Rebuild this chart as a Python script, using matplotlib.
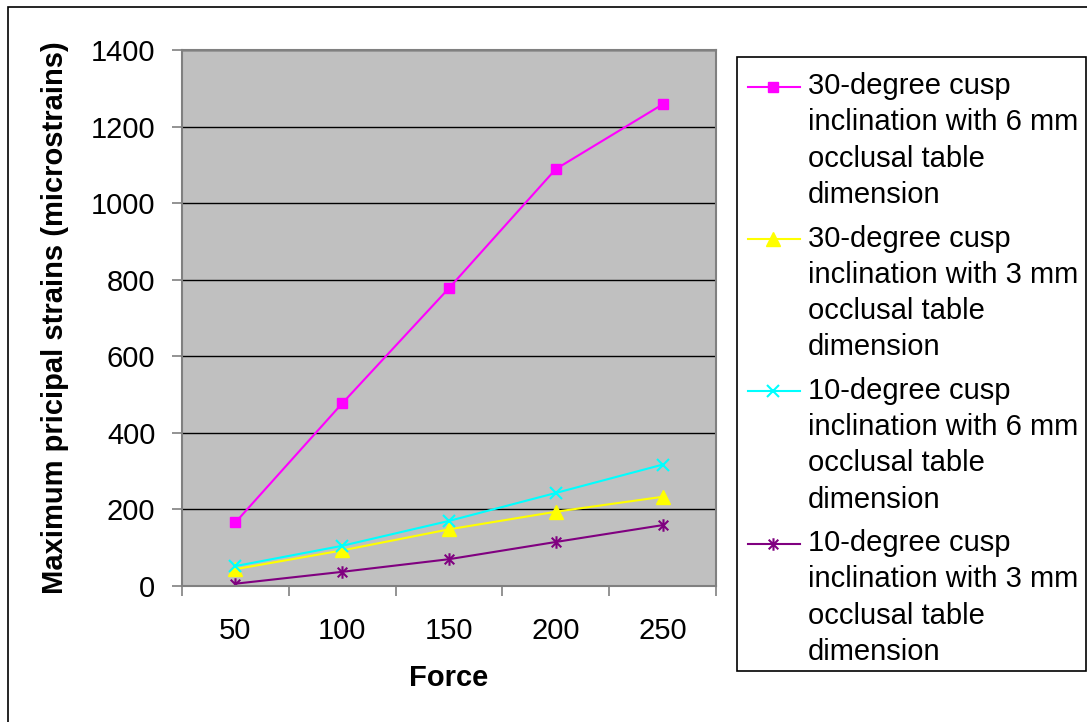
import matplotlib
matplotlib.use('Agg')
from matplotlib import pyplot as plt
from matplotlib.path import Path
from matplotlib.patches import Rectangle
from matplotlib.lines import Line2D

# 数据
force = ['50', '100', '150', '200', '250']
s30_6 = [166, 477, 778, 1089, 1258]
s30_3 = [44, 93, 148, 194, 233]
s10_6 = [52, 105, 170, 243, 317]
s10_3 = [6, 37, 70, 115, 159]
labels = [
    '30-degree cusp\ninclination with 6 mm\nocclusal table\ndimension',
    '30-degree cusp\ninclination with 3 mm\nocclusal table\ndimension',
    '10-degree cusp\ninclination with 6 mm\nocclusal table\ndimension',
    '10-degree cusp\ninclination with 3 mm\nocclusal table\ndimension',
]

plt.rcParams['font.family'] = ['Liberation Sans', 'DejaVu Sans']
FS = 21

# Excel 风格的星形标记（x 加竖线）
star = Path([(-1, -1), (1, 1), (-1, 1), (1, -1), (0, -1.3), (0, 1.3)],
            [Path.MOVETO, Path.LINETO, Path.MOVETO, Path.LINETO, Path.MOVETO, Path.LINETO])

W, H = 1087, 722
fig = plt.figure(figsize=(W / 100, H / 100), dpi=100)
ax = fig.add_axes([182 / W, 1 - 586 / H, 534 / W, 536 / H])
ax.set_facecolor('#C0C0C0')

styles = [
    dict(color='#FF00FF', marker='s', markersize=7.5),
    dict(color='#FFFF00', marker='^', markersize=9.5),
    dict(color='#00FFFF', marker='x', markersize=9, mew=1.5),
    dict(color='#800080', marker=star, markersize=9, mew=1.5),
]
x = list(range(1, len(force) + 1))
for ys, st in zip([s30_6, s30_3, s10_6, s10_3], styles):
    ax.plot(x, ys, lw=1.5, **st)

ax.set_ylim(0, 1400)
ax.set_yticks(range(0, 1401, 200))
ax.yaxis.grid(True, color='black', lw=1)
ax.set_axisbelow(True)
ax.set_xlim(0.5, 5.5)
ax.set_xticks([i + 0.5 for i in range(0, 6)])
ax.set_xticklabels([])
ax.set_xticks(x, minor=True)
ax.set_xticklabels(force, minor=True)
ax.tick_params(axis='x', which='minor', length=0, pad=22, labelsize=FS)
ax.tick_params(axis='x', which='major', length=7.2, color='#808080', width=1.2)
ax.tick_params(axis='y', length=7.2, color='#808080', width=1.2, labelsize=FS, pad=12)
for sp in ax.spines.values():
    sp.set_color('#808080')
    sp.set_linewidth(1.5)

ax.set_xlabel('Force', fontsize=FS, fontweight='bold', labelpad=14)
ax.set_ylabel('Maximum pricipal strains (microstrains)', fontsize=FS, fontweight='bold')
ax.yaxis.set_label_coords((69 - 182) / 534, 0.5)

# 图例（手动绘制，标记对齐第一行文字）
fig.patches.append(Rectangle((737 / W, 1 - 671 / H), 349 / W, 614 / H, transform=fig.transFigure,
                             facecolor='white', edgecolor='black', lw=1.2, zorder=0))
for i, (lab, st) in enumerate(zip(labels, styles)):
    base = 94.3 + i * 152.3
    ly = 1 - (base - 7.6) / H
    fig.add_artist(Line2D([748 / W, 800 / W], [ly, ly], color=st['color'], lw=1.5,
                          transform=fig.transFigure))
    fig.add_artist(Line2D([773 / W], [ly], transform=fig.transFigure, linestyle='none', **st))
    for j, line in enumerate(lab.split('\n')):
        fig.text(808 / W, 1 - (base + j * 36.2) / H, line, fontsize=FS, va='baseline', ha='left')

# 外框
fig.patches.append(Rectangle((8 / W, -0.05), 1.2, 1 - 7 / H + 0.05, transform=fig.transFigure,
                             facecolor='none', edgecolor='black', lw=1.2))

plt.savefig('out.png', dpi=100)
